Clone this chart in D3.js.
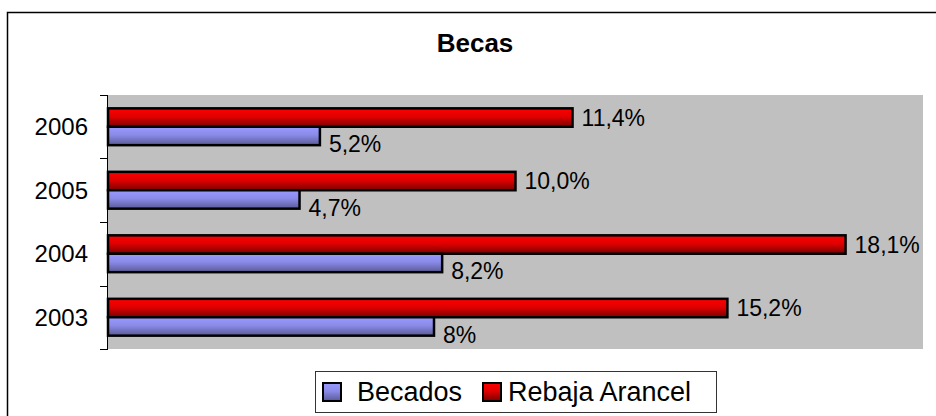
<!DOCTYPE html>
<html>
<head>
<meta charset="utf-8">
<script src="https://cdn.jsdelivr.net/npm/d3@7"></script>
<style>
  body { margin: 0; background: #fff; }
  text { font-family: Arial, "Liberation Sans", sans-serif; }
</style>
</head>
<body>
<div id="chart"></div>
<script>
// data
var years = ["2006", "2005", "2004", "2003"];
var seriesNames = ["Rebaja Arancel", "Becados"];
var rebaja = [11.4, 10.0, 18.1, 15.2];
var becados = [5.2, 4.7, 8.2, 8.0];
var labelsRebaja = ["11,4%", "10,0%", "18,1%", "15,2%"];
var labelsBecados = ["5,2%", "4,7%", "8,2%", "8%"];
var legendNames = ["Becados", "Rebaja Arancel"];

var width = 936, height = 416;
var plot = {left: 108, right: 923, top: 95, bottom: 349};

var svg = d3.select("#chart").append("svg")
  .attr("width", width)
  .attr("height", height);

// gradients for the bars
var defs = svg.append("defs");
var gradRed = defs.append("linearGradient").attr("id", "gRed")
  .attr("x1", 0).attr("y1", 0).attr("x2", 0).attr("y2", 1);
gradRed.append("stop").attr("offset", "0%").attr("stop-color", "#ff0000");
gradRed.append("stop").attr("offset", "45%").attr("stop-color", "#e00000");
gradRed.append("stop").attr("offset", "100%").attr("stop-color", "#7a0000");
var gradBlue = defs.append("linearGradient").attr("id", "gBlue")
  .attr("x1", 0).attr("y1", 0).attr("x2", 0).attr("y2", 1);
gradBlue.append("stop").attr("offset", "0%").attr("stop-color", "#9a9aff");
gradBlue.append("stop").attr("offset", "45%").attr("stop-color", "#8a8ae8");
gradBlue.append("stop").attr("offset", "100%").attr("stop-color", "#5a5a96");

// outer chart border (runs off the right and bottom of the picture)
svg.append("rect")
  .attr("x", 7.5).attr("y", 12.5)
  .attr("width", 1000).attr("height", 500)
  .attr("fill", "#fff")
  .attr("stroke", "#000").attr("stroke-width", 1.5);

svg.append("text")
  .attr("x", 475).attr("y", 52)
  .attr("text-anchor", "middle")
  .attr("font-weight", "bold")
  .attr("font-size", 26)
  .text("Becas");

var x = d3.scaleLinear().domain([0, 20]).range([plot.left, plot.right]);
var y0 = d3.scaleBand().domain(years)
  .range([plot.top, plot.bottom])
  .paddingInner(0.42).paddingOuter(0.21);
var y1 = d3.scaleBand().domain(seriesNames).range([0, y0.bandwidth()]);

// plot area background
svg.append("rect")
  .attr("x", plot.left).attr("y", plot.top)
  .attr("width", plot.right - plot.left)
  .attr("height", plot.bottom - plot.top)
  .attr("fill", "#c0c0c0");

var rows = years.map(function(y, i) {
  return {year: y, vals: [
    {name: "Rebaja Arancel", v: rebaja[i], label: labelsRebaja[i], fill: "url(#gRed)", dy: 0},
    {name: "Becados", v: becados[i], label: labelsBecados[i], fill: "url(#gBlue)", dy: 8}
  ]};
});

var groups = svg.selectAll("g.year")
  .data(rows)
  .enter().append("g")
  .attr("class", "year")
  .attr("transform", function(d) { return "translate(0," + y0(d.year) + ")"; });

groups.selectAll("rect")
  .data(function(d) { return d.vals; })
  .enter().append("rect")
  .attr("x", x(0))
  .attr("y", function(d) { return y1(d.name); })
  .attr("width", function(d) { return x(d.v) - x(0); })
  .attr("height", y1.bandwidth())
  .attr("fill", function(d) { return d.fill; })
  .attr("stroke", "#000").attr("stroke-width", 2.5);

groups.selectAll("text")
  .data(function(d) { return d.vals; })
  .enter().append("text")
  .attr("x", function(d) { return x(d.v) + 9; })
  .attr("y", function(d) { return y1(d.name) + y1.bandwidth() / 2 + d.dy; })
  .attr("dy", "0.35em")
  .attr("font-size", 23)
  .attr("fill", "#000")
  .text(function(d) { return d.label; });

// category axis: ticks sit between the bands
var axis = svg.append("g");
axis.append("line")
  .attr("x1", plot.left - 0.5).attr("x2", plot.left - 0.5)
  .attr("y1", plot.top).attr("y2", plot.bottom)
  .attr("stroke", "#000");
var bounds = years.map(function(y) { return y0(y) - y0.step() * y0.paddingInner() / 2; });
bounds.push(plot.bottom);
axis.selectAll("line.tick")
  .data(bounds)
  .enter().append("line")
  .attr("class", "tick")
  .attr("x1", plot.left - 8).attr("x2", plot.left)
  .attr("y1", function(d) { return Math.round(d) + 0.5; })
  .attr("y2", function(d) { return Math.round(d) + 0.5; })
  .attr("stroke", "#000");
axis.selectAll("text")
  .data(years)
  .enter().append("text")
  .attr("x", 88)
  .attr("y", function(d) { return y0(d) + y0.bandwidth() / 2; })
  .attr("dy", "0.35em")
  .attr("text-anchor", "end")
  .attr("font-size", 24)
  .text(function(d) { return d; });

// legend
var legend = svg.append("g");
legend.append("rect")
  .attr("x", 315.5).attr("y", 371.5)
  .attr("width", 401).attr("height", 41)
  .attr("fill", "#fff")
  .attr("stroke", "#333");
var legendX = [323, 483];
var legendFill = ["url(#gBlue)", "url(#gRed)"];
legendNames.forEach(function(n, i) {
  legend.append("rect")
    .attr("x", legendX[i]).attr("y", 383)
    .attr("width", 18).attr("height", 18)
    .attr("fill", legendFill[i])
    .attr("stroke", "#000").attr("stroke-width", 2);
  legend.append("text")
    .attr("x", legendX[i] + (i === 0 ? 34 : 25))
    .attr("y", 392)
    .attr("dy", "0.35em")
    .attr("font-size", 27)
    .text(n);
});
</script>
</body>
</html>
